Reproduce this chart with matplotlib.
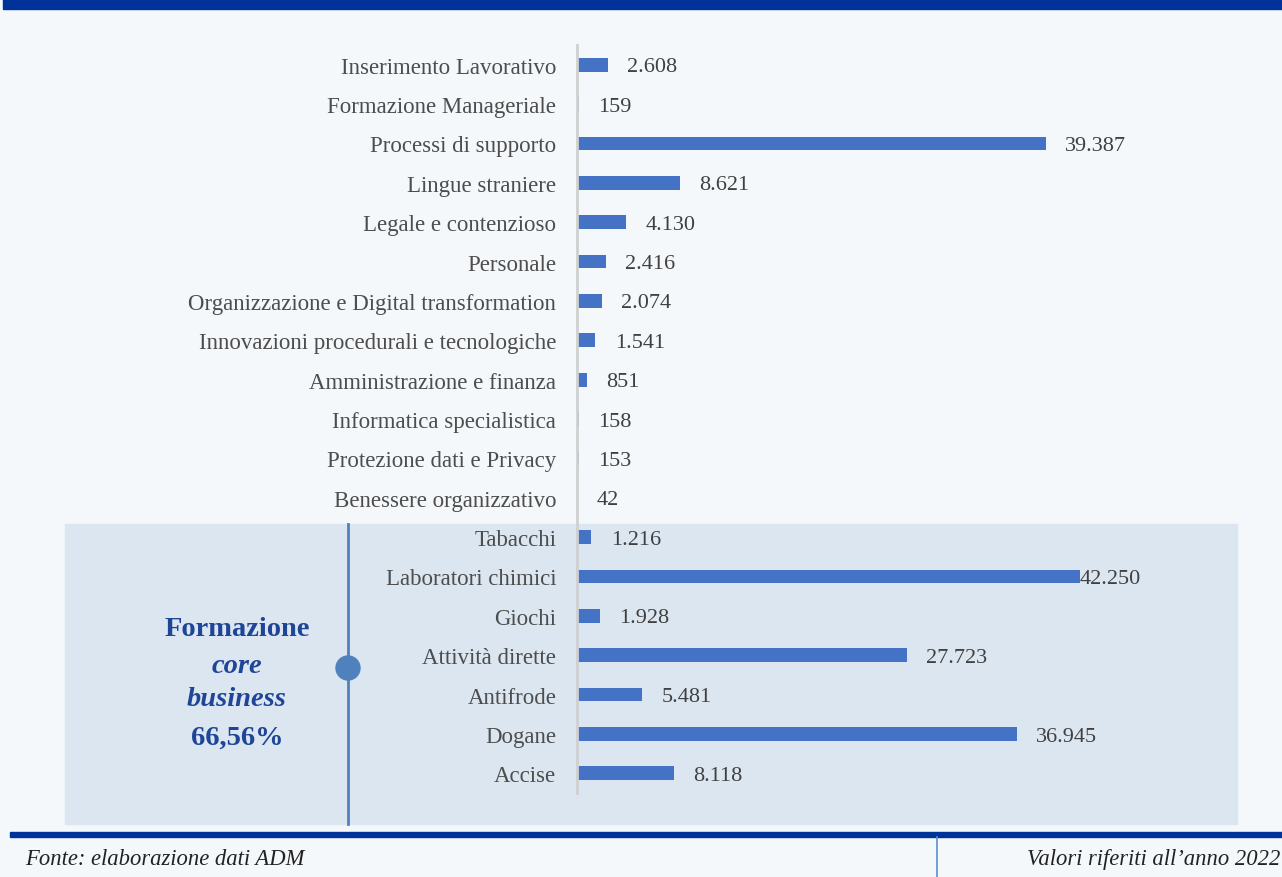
import matplotlib
matplotlib.use("Agg")
import matplotlib.pyplot as plt
from matplotlib.patches import Rectangle, Ellipse
from matplotlib.lines import Line2D

categories = [
    "Inserimento Lavorativo", "Formazione Manageriale", "Processi di supporto",
    "Lingue straniere", "Legale e contenzioso", "Personale",
    "Organizzazione e Digital transformation", "Innovazioni procedurali e tecnologiche",
    "Amministrazione e finanza", "Informatica specialistica", "Protezione dati e Privacy",
    "Benessere organizzativo", "Tabacchi", "Laboratori chimici", "Giochi",
    "Attività dirette", "Antifrode", "Dogane", "Accise",
]
values = [2608, 159, 39387, 8621, 4130, 2416, 2074, 1541, 851, 158, 153, 42,
          1216, 42250, 1928, 27723, 5481, 36945, 8118]

W, H = 1282, 878
fig = plt.figure(figsize=(W / 100, H / 100), dpi=100)
fig.patch.set_facecolor("#f4f8fb")

def fx(x):
    return x / W

def fy(y):
    return 1 - y / H

SERIF = ["Liberation Serif", "DejaVu Serif"]
BLUE_DARK = "#003399"
TXT_BLUE = "#1f4597"

# decorations
fig.add_artist(Rectangle((fx(3), fy(10)), 1, 10 / H, transform=fig.transFigure,
                         color=BLUE_DARK, zorder=-2))
fig.add_artist(Rectangle((fx(65), fy(825)), (1237 - 65) / W, 300 / H,
                         transform=fig.transFigure, color="#dce6f1", zorder=-1))
fig.add_artist(Rectangle((fx(10), fy(838)), 1, 5 / H, transform=fig.transFigure,
                         color=BLUE_DARK, zorder=-1))
fig.add_artist(Line2D([fx(348), fx(348)], [fy(525), fy(825)], transform=fig.transFigure,
                      color="#4f81bd", lw=2, zorder=2))
fig.add_artist(Ellipse((fx(348), fy(669)), 24 / W, 24 / H, transform=fig.transFigure,
                       color="#4f81bd", zorder=3))
fig.add_artist(Line2D([fx(937), fx(937)], [fy(838), fy(878)], transform=fig.transFigure,
                      color="#5b8fd0", lw=1.2, zorder=2))

# box text
BOX_FS = 20.5
fig.text(fx(237), fy(630), "Formazione", ha="center", va="center", fontsize=BOX_FS,
         fontweight="bold", color=TXT_BLUE, family=SERIF)
fig.text(fx(237), fy(667), "core", ha="center", va="center", fontsize=BOX_FS,
         fontweight="bold", fontstyle="italic", color=TXT_BLUE, family=SERIF)
fig.text(fx(237), fy(700), "business", ha="center", va="center", fontsize=BOX_FS,
         fontweight="bold", fontstyle="italic", color=TXT_BLUE, family=SERIF)
fig.text(fx(237), fy(738), "66,56%", ha="center", va="center", fontsize=BOX_FS,
         fontweight="bold", color=TXT_BLUE, family=SERIF)

# footer
fig.text(fx(25), fy(860), "Fonte: elaborazione dati ADM", ha="left", va="center",
         fontsize=16.3, fontstyle="italic", color="#222222", family=SERIF)
fig.text(fx(1280), fy(860), "Valori riferiti all\u2019anno 2022", ha="right", va="center",
         fontsize=16.3, fontstyle="italic", color="#222222", family=SERIF)

# chart
ax = fig.add_axes([fx(577), fy(794), 660 / W, 748 / H])
ax.set_facecolor("none")
y = list(range(len(categories)))
ax.barh(y, values, height=0.35, color="#4472c4", zorder=2)
ax.set_ylim(len(categories) - 0.5, -0.5)
ax.set_xlim(0, 660 / (503 / 42250))
ax.set_yticks(y)
ax.set_yticklabels(categories, family=SERIF, fontsize=16.5, color="#4d4d4d")
ax.tick_params(axis="y", length=0, pad=15)
ax.set_xticks([])
for s in ["top", "right", "bottom"]:
    ax.spines[s].set_visible(False)
ax.spines["left"].set_color("#d0d0d0")
ax.spines["left"].set_linewidth(2)

vmax = max(values)
for yi, v in zip(y, values):
    lab = f"{v:,}".replace(",", ".")
    off = 0 if v == vmax else 14
    ax.annotate(lab, (v, yi), xytext=(off, -1.5), textcoords="offset points",
                ha="left", va="center", fontsize=16, color="#404040", family=SERIF)

fig.savefig("out.png", dpi=100, facecolor=fig.get_facecolor())
